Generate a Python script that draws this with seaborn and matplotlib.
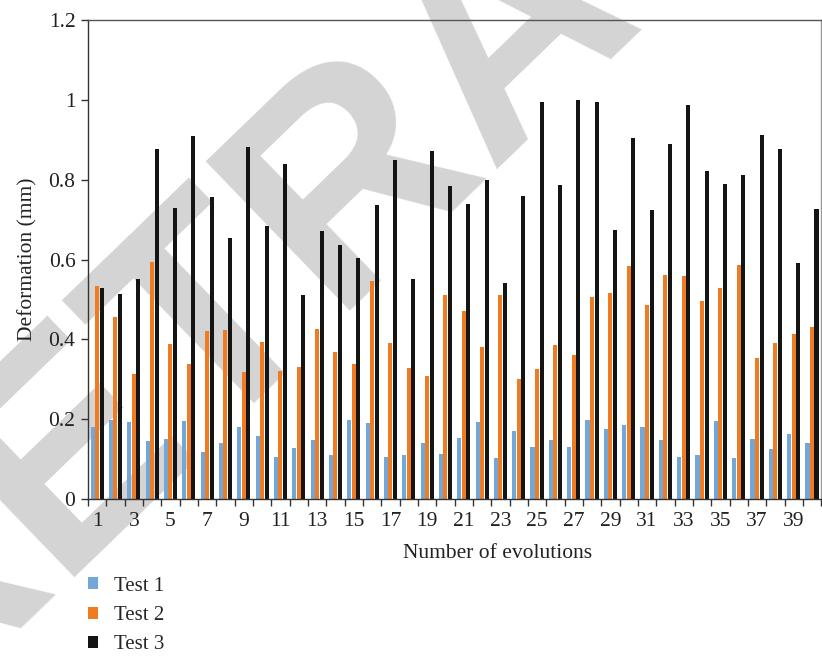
import numpy as np
import pandas as pd
import matplotlib
matplotlib.use("Agg")
import matplotlib.pyplot as plt
import seaborn as sns

# Number of evolutions 1..40
evolutions = list(range(1, 41))

test1 = [0.180, 0.198, 0.193, 0.145, 0.150, 0.195, 0.118, 0.140, 0.180, 0.158,
         0.105, 0.128, 0.148, 0.110, 0.198, 0.190, 0.105, 0.110, 0.140, 0.113,
         0.153, 0.193, 0.103, 0.170, 0.130, 0.148, 0.130, 0.198, 0.175, 0.185,
         0.180, 0.148, 0.105, 0.110, 0.195, 0.103, 0.150, 0.125, 0.163, 0.140]

test2 = [0.534, 0.456, 0.313, 0.594, 0.388, 0.338, 0.421, 0.424, 0.318, 0.394,
         0.321, 0.331, 0.426, 0.368, 0.338, 0.546, 0.391, 0.328, 0.308, 0.511,
         0.471, 0.381, 0.511, 0.301, 0.326, 0.386, 0.361, 0.506, 0.516, 0.584,
         0.486, 0.561, 0.559, 0.496, 0.529, 0.586, 0.353, 0.391, 0.414, 0.431]

test3 = [0.529, 0.514, 0.551, 0.877, 0.729, 0.910, 0.757, 0.654, 0.882, 0.684,
         0.840, 0.511, 0.672, 0.637, 0.604, 0.737, 0.850, 0.551, 0.872, 0.784,
         0.739, 0.800, 0.541, 0.759, 0.995, 0.787, 1.000, 0.995, 0.674, 0.905,
         0.724, 0.890, 0.987, 0.822, 0.789, 0.812, 0.912, 0.877, 0.591, 0.727]

series_names = ["Test 1", "Test 2", "Test 3"]
series_colors = ["#72a7d9", "#ef7b22", "#141414"]

y_ticks = [0, 0.2, 0.4, 0.6, 0.8, 1.0, 1.2]
y_tick_labels = ["0", "0.2", "0.4", "0.6", "0.8", "1", "1.2"]

df = pd.DataFrame({
    "evolution": evolutions * 3,
    "value": test1 + test2 + test3,
    "series": sum([[n] * len(evolutions) for n in series_names], []),
})

sns.set_theme(style="white")
plt.rcParams["font.family"] = ["Liberation Serif", "DejaVu Serif"]

fig = plt.figure(figsize=(8.22, 6.56), dpi=100)
fig.patch.set_facecolor("white")

# light diagonal stamp behind the chart
fig.text(0.688, 0.872, "RETRACTED", rotation=44, rotation_mode="anchor",
         ha="center", va="baseline", fontsize=216, fontweight="bold",
         family="Liberation Sans", color="#d4d4d4", zorder=-1)

ax = fig.add_axes([0.107, 0.2393, 0.892, 0.7302])
ax.patch.set_alpha(0)

sns.barplot(data=df, x="evolution", y="value", hue="series",
            hue_order=series_names, palette=series_colors,
            width=0.74, gap=0.1, saturation=1, edgecolor="none", linewidth=0,
            ax=ax, legend=True)

ax.set_xlim(-0.5, len(evolutions) - 0.5)
ax.set_ylim(0, 1.2)

# x labels on odd evolutions, tick marks at group boundaries
pos = np.arange(len(evolutions))
ax.set_xticks(pos[::2])
ax.set_xticklabels([str(e) for e in evolutions[::2]])
ax.set_xticks(np.arange(-0.5, len(evolutions)), minor=True)
ax.tick_params(axis="x", which="major", length=0, pad=9, labelsize=15.5, colors="#222222")
ax.tick_params(axis="x", which="minor", length=5, width=1, color="#333333", direction="out",
               bottom=True)

ax.set_yticks(y_ticks)
ax.set_yticklabels(y_tick_labels)
ax.tick_params(axis="y", length=5, width=1, color="#333333", direction="out", left=True,
               labelsize=15.5, labelcolor="#222222", pad=4)

for side in ["left", "bottom", "top", "right"]:
    ax.spines[side].set_visible(True)
    ax.spines[side].set_color("#333333")
    ax.spines[side].set_linewidth(1.0)
ax.spines["top"].set_color("#555555")
ax.spines["right"].set_color("#999999")

ax.set_xlabel("Number of evolutions", fontsize=15.5, color="#222222")
ax.xaxis.set_label_coords(0.558, -0.094)
ax.set_ylabel("Deformation (mm)", fontsize=15.5, color="#222222", labelpad=8)

handles, labels = ax.get_legend_handles_labels()
ax.get_legend().remove()
fig.legend(handles, labels, loc="upper left", bbox_to_anchor=(0.107, 0.121),
           frameon=False, fontsize=15, handlelength=0.5, handleheight=0.5,
           handletextpad=0.75, labelspacing=0.5, borderaxespad=0, borderpad=0)

fig.savefig("out.png", dpi=100, facecolor="white")
